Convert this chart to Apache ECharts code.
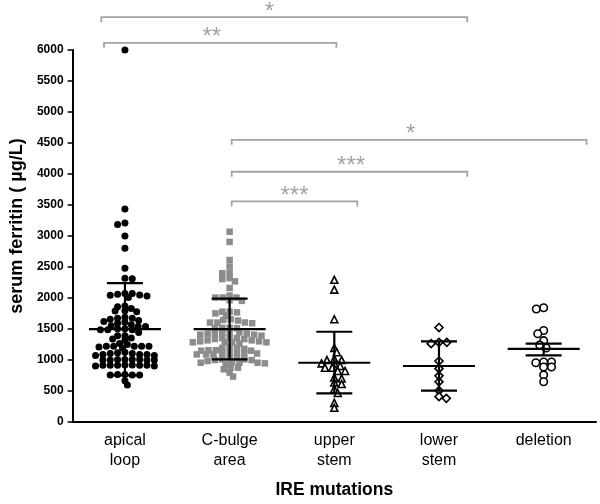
<!DOCTYPE html>
<html><head><meta charset="utf-8">
<script src="https://cdn.jsdelivr.net/npm/echarts@6/dist/echarts.min.js"></script>
<style>html,body{margin:0;padding:0;background:#fff}#c{width:600px;height:504px}</style>
</head><body><div id="c"></div>
<script>
// ---- data ----
const categories = ['apical\nloop', 'C-bulge\narea', 'upper\nstem', 'lower\nstem', 'deletion'];

const apicalLoop = [6000, 3436, 3209, 3186, 3001, 2803, 2480, 2318, 2310,
  2071, 2034, 2007, 2061, 2045, 2050, 2071,
  1859, 1795, 1779, 1790, 1832, 1870,
  1688, 1672, 1636, 1593, 1620, 1609, 1657, 1672,
  1567, 1540, 1503, 1487, 1487, 1487, 1503, 1540, 1551,
  1445, 1392, 1338, 1317, 1354, 1392,
  1265, 1222, 1222, 1211, 1195, 1222, 1222, 1222, 1249,
  1105, 1090, 1074, 1105, 1115, 1090, 1074, 1090, 1126,
  1010, 1010, 999, 999, 1010, 999, 999, 1010,
  920, 915, 915, 903, 915, 903, 915, 915, 920,
  765, 760, 760, 760, 765,
  596, 664];

const cBulgeArea = [3069, 2905, 2612, 2507, 2400, 2400, 2268, 2305, 2321, 2161,
  2007, 2007, 1954, 1965, 2007, 2039,
  1779, 1752, 1715, 1768, 1779,
  1647, 1604, 1593, 1604, 1604, 1636, 1657,
  1520, 1513, 1513, 1520,
  1445, 1433, 1424, 1408, 1392, 1408, 1424, 1445, 1445,
  1354, 1338, 1338, 1354, 1354,
  1317, 1301, 1285, 1285, 1264, 1285, 1285, 1301, 1317,
  1195, 1179, 1158, 1150, 1150, 1158, 1195, 1211,
  1105, 1090, 1090, 1090, 1115, 1115, 1105, 1105,
  1035, 1010, 999, 983, 999, 1010, 1035,
  967, 946, 956, 930, 956, 956,
  876, 850, 876,
  733, 797];

const upperStem = [2294, 2135, 1657, 1195, 1126, 1019, 999, 999, 946, 946, 903, 876, 876,
  823, 823, 717, 701, 637, 612, 532, 468, 229, 309];

const lowerStem = [1524, 1285, 1264, 1285, 983, 860, 744, 648, 505, 382, 409];

const deletion = [1822, 1843, 1477, 1424, 1312, 1242, 1195, 967, 887, 887, 956, 967, 760, 648];

// mean line and error-bar ends as drawn in the reference
const means   = [1497, 1497, 956, 903, 1179];
const barLow  = [753, 1010, 462, 505, 1073];
const barHigh = [2241, 1991, 1456, 1301, 1264];

// significance brackets: from / to (category axis units), level (µg/L), label, label position
const bracketFrom  = [-0.226, -0.2, 1.02, 1.02, 1.02];
const bracketTo    = [3.27, 2.02, 4.41, 3.27, 2.22];
const bracketLevel = [6530, 6116, 4551, 4036, 3558];
const bracketText  = ['*', '**', '*', '***', '***'];
const bracketTextAt = [1.38, 0.83, 2.73, 2.16, 1.62];

const yMin = 0, yMax = 6000, yStep = 500;

// ---- layout ----
const W = 600, H = 504;
const GRID = { left: 62, right: 4, top: 50, bottom: 77 };
const pxPerCat = (W - GRID.left - GRID.right) / categories.length;
const pxPerUnit = (H - GRID.top - GRID.bottom) / (yMax - yMin);

// deterministic beeswarm layout (pixel space, elliptical spacing) -> data coords
function swarm(vals, ci, sx, sy) {
  const sorted = vals.slice().sort((a, b) => b - a);
  const placed = [], out = [];
  sorted.forEach((v, n) => {
    const py = v * pxPerUnit;
    let best = null;
    for (let k = 0; k < 400 && best === null; k++) {
      const off = k * 0.5;
      const cands = k === 0 ? [0] : (n % 2 ? [-off, off] : [off, -off]);
      for (const c of cands) {
        const ok = placed.every(p => {
          const dx = (p[0] - c) / sx, dy = (p[1] - py) / sy;
          return dx * dx + dy * dy >= 1;
        });
        if (ok) { best = c; break; }
      }
    }
    placed.push([best, py]);
    out.push([ci + best / pxPerCat, v]);
  });
  return out;
}

const groups = [apicalLoop, cBulgeArea, upperStem, lowerStem, deletion];
const symbols = [
  { symbol: 'circle', size: 7, color: '#000', border: null, sx: 7.5, sy: 4.5 },
  { symbol: 'rect', size: 6.5, color: '#8c8c8c', border: null, sx: 7.5, sy: 4.5 },
  { symbol: 'triangle', size: 7, color: '#fff', border: '#000', sx: 7.5, sy: 4.5 },
  { symbol: 'diamond', size: 8, color: '#fff', border: '#000', sx: 7.8, sy: 5 },
  { symbol: 'circle', size: 7.5, color: '#fff', border: '#000', sx: 7.6, sy: 5 }
];

const font = '"Liberation Sans", Arial, sans-serif';
const gray = '#a3a3a3';

const scatterSeries = groups.map((g, i) => ({
  type: 'scatter',
  xAxisIndex: 1, yAxisIndex: 0,
  symbol: symbols[i].symbol,
  symbolSize: symbols[i].size,
  itemStyle: symbols[i].border
    ? { color: symbols[i].color, borderColor: symbols[i].border, borderWidth: 1.6, opacity: 1 }
    : { color: symbols[i].color, opacity: 1 },
  data: swarm(g, i, symbols[i].sx, symbols[i].sy),
  z: 2, silent: true
}));

const errorSeries = {
  type: 'custom',
  xAxisIndex: 1, yAxisIndex: 0,
  data: means.map((m, i) => [i, m, barLow[i], barHigh[i]]),
  encode: { x: 0, y: 1 },
  z: 5, silent: true,
  renderItem: (params, api) => {
    const x = api.value(0);
    const m = api.coord([x, api.value(1)]);
    const lo = api.coord([x, api.value(2)]);
    const hi = api.coord([x, api.value(3)]);
    const st = { stroke: '#000', lineWidth: 2.2 };
    return { type: 'group', children: [
      { type: 'line', shape: { x1: m[0] - 36, y1: m[1], x2: m[0] + 36, y2: m[1] }, style: st },
      { type: 'line', shape: { x1: hi[0] - 18, y1: hi[1], x2: hi[0] + 18, y2: hi[1] }, style: st },
      { type: 'line', shape: { x1: lo[0] - 18, y1: lo[1], x2: lo[0] + 18, y2: lo[1] }, style: st },
      { type: 'line', shape: { x1: m[0], y1: hi[1], x2: m[0], y2: lo[1] }, style: st }
    ]};
  }
};

const bracketSeries = {
  type: 'custom',
  xAxisIndex: 1, yAxisIndex: 0,
  clip: false,
  data: bracketLevel.map((l, i) => [bracketFrom[i], l]),
  encode: { x: 0, y: 1 },
  z: 6, silent: true,
  renderItem: (params, api) => {
    const i = params.dataIndex;
    const a = api.coord([bracketFrom[i], bracketLevel[i]]);
    const b = api.coord([bracketTo[i], bracketLevel[i]]);
    const t = api.coord([bracketTextAt[i], bracketLevel[i]]);
    return { type: 'group', children: [
      { type: 'polyline', shape: { points: [[a[0], a[1] + 5], [a[0], a[1]], [b[0], b[1]], [b[0], b[1] + 5]] },
        style: { stroke: gray, lineWidth: 1.8, fill: null } },
      { type: 'text', style: { text: bracketText[i], x: t[0], y: t[1] - 5,
        align: 'center', verticalAlign: 'middle', textAlign: 'center', textVerticalAlign: 'middle',
        font: '24px ' + font, fill: gray } }
    ]};
  }
};

const chart = echarts.init(document.getElementById('c'), null, { renderer: 'canvas' });
chart.setOption({
  animation: false,
  backgroundColor: '#fff',
  grid: { left: GRID.left, right: GRID.right, top: GRID.top, bottom: GRID.bottom, containLabel: false },
  xAxis: [
    {
      type: 'category', data: categories, boundaryGap: true,
      name: 'IRE mutations', nameLocation: 'middle', nameGap: 59,
      nameTextStyle: { fontFamily: font, fontSize: 17.5, fontWeight: 'bold', color: '#000' },
      axisLine: { onZero: false, lineStyle: { color: '#000', width: 2 } },
      axisTick: { alignWithLabel: true, length: 5, lineStyle: { color: '#000', width: 1.5 } },
      axisLabel: { fontFamily: font, fontSize: 16, lineHeight: 20, color: '#000', margin: 9, interval: 0 },
      splitLine: { show: false }
    },
    { type: 'value', min: -0.5, max: 4.5, show: false, splitLine: { show: false },
      axisLine: { show: false, onZero: false } }
  ],
  yAxis: {
    type: 'value', min: yMin, max: yMax, interval: yStep,
    name: 'serum ferritin ( µg/L)', nameLocation: 'middle', nameGap: 40,
    nameTextStyle: { fontFamily: font, fontSize: 18, fontWeight: 'bold', color: '#000', padding: [0, 0, 0, 20] },
    axisLine: { show: true, onZero: false, lineStyle: { color: '#000', width: 2 } },
    axisTick: { show: true, length: 5, lineStyle: { color: '#000', width: 1.5 } },
    axisLabel: { fontFamily: font, fontSize: 12, fontWeight: 'bold', color: '#000', margin: 9,
      formatter: v => String(v) },
    splitLine: { show: false }
  },
  series: [...scatterSeries, errorSeries, bracketSeries]
});
</script>
</body></html>
